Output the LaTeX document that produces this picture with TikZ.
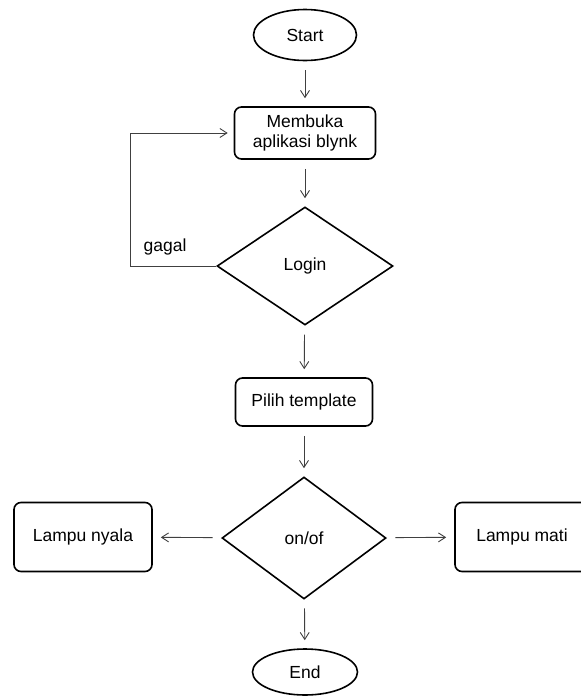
\documentclass[tikz,border=0pt]{standalone}
\usepackage{fontspec}
\setmainfont{Liberation Sans}
\usetikzlibrary{shapes.geometric,arrows.meta}
\newcommand{\pixelsize}{1pt}

\begin{document}
\begin{tikzpicture}[x=\pixelsize,y=-\pixelsize,
	font=\fontsize{17.5}{20}\selectfont,
	startstop/.style={ellipse, draw, line width=1.6pt, inner sep=0pt},
	process/.style={rectangle, rounded corners=7pt, draw, line width=1.6pt, inner sep=0pt, align=center},
	decision/.style={diamond, draw, line width=1.6pt, inner sep=0pt},
	flow/.style={-{Straight Barb[length=7pt,width=9pt]}, draw=black!75, line width=0.9pt, shorten <=9pt, shorten >=8pt}]
	\useasboundingbox (0,0) rectangle (581,697);

	\node[startstop, minimum width=103, minimum height=51] (start) at (305,35) {Start};
	\node[process, minimum width=141, minimum height=52] (open) at (305,133) {Membuka\\aplikasi blynk};
	\node[decision, minimum width=176, minimum height=118] (login) at (305,266) {Login};
	\node[process, minimum width=137, minimum height=48] (template) at (304,402) {Pilih template};
	\node[decision, minimum width=164, minimum height=122] (onoff) at (304,538) {on/of};
	\node[process, minimum width=138, minimum height=69] (lampon) at (83,537) {Lampu nyala};
	\node[process, minimum width=134, minimum height=69] (lampoff) at (522,537) {Lampu mati};
	\node[startstop, minimum width=105, minimum height=46] (end) at (305,672) {End};
	\coordinate (loopcorner) at (130,266);
	\node (gagal) at (165,247) {gagal};

	\draw[flow] (start) -- (open);
	\draw[flow] (open) -- (login);
	\draw[flow] (login) -- (template);
	\draw[flow] (template) -- (onoff);
	\draw[flow] (onoff) -- (lampon);
	\draw[flow] (onoff) -- (lampoff);
	\draw[flow] (onoff) -- (end);
	\draw[flow, shorten <=0pt, shorten >=6pt] (login.west) -- (loopcorner) |- (open.west);
\end{tikzpicture}
\end{document}
